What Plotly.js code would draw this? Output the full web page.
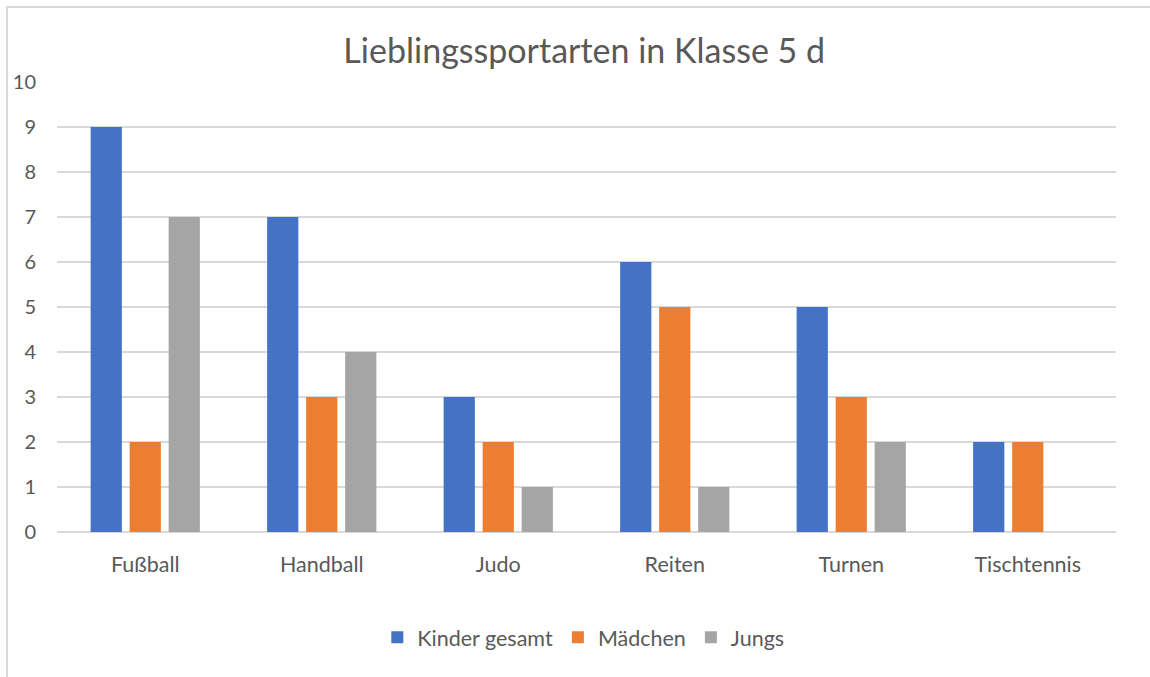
<!DOCTYPE html>
<html>
<head>
<meta charset="utf-8">
<script src="https://cdn.plot.ly/plotly-3.0.1.min.js"></script>
<style>
html,body{margin:0;padding:0;background:#fff;}
#frame{position:absolute;left:6px;top:6px;width:1200px;height:700px;border-left:2px solid #d9d9d9;border-top:2px solid #d9d9d9;pointer-events:none;z-index:5;}
#chart{position:absolute;left:0;top:0;width:1150px;height:677px;}
</style>
</head>
<body>
<div id="chart"></div>
<div id="frame"></div>
<script>
const categories = ["Fußball", "Handball", "Judo", "Reiten", "Turnen", "Tischtennis"];
const kinderGesamt = [9, 7, 3, 6, 5, 2];
const maedchen = [2, 3, 2, 5, 3, 2];
const jungs = [7, 4, 1, 1, 2, 0];
const seriesNames = ["Kinder gesamt", "Mädchen", "Jungs"];
const colors = ["#4472C4", "#ED7D31", "#A5A5A5"];

const fontFam = "Lato, 'Open Sans', sans-serif";
const series = [kinderGesamt, maedchen, jungs];
const data = series.map((vals, i) => ({
  type: "bar",
  x: categories,
  y: vals,
  name: seriesNames[i],
  marker: {color: colors[i]},
  hoverinfo: "x+y+name"
}));

const layout = {
  width: 1150,
  height: 677,
  paper_bgcolor: "#fff",
  plot_bgcolor: "#fff",
  margin: {l: 57, r: 34, t: 82, b: 145},
  barmode: "group",
  bargap: 0.337,
  bargroupgap: 0.2,
  title: {
    text: "Lieblingssportarten in Klasse 5 d",
    font: {family: fontFam, size: 34, color: "#595959"},
    x: 0.508, xanchor: "center",
    y: 0.925, yanchor: "middle"
  },
  xaxis: {
    type: "category",
    showgrid: false,
    showline: false,
    zeroline: false,
    ticks: "",
    tickfont: {family: fontFam, size: 21.5, color: "#595959"},
    ticklabelstandoff: 17
  },
  yaxis: {
    range: [0, 10],
    dtick: 1,
    showgrid: true,
    gridcolor: "#d9d9d9",
    gridwidth: 1.5,
    zeroline: true,
    zerolinecolor: "#d9d9d9",
    zerolinewidth: 1.5,
    showline: false,
    ticks: "",
    tickfont: {family: fontFam, size: 20, color: "#595959"},
    ticklabelstandoff: 20
  },
  showlegend: true,
  legend: {
    orientation: "h",
    x: 0.497, xanchor: "center",
    y: -0.234, yanchor: "middle",
    font: {family: fontFam, size: 21.5, color: "#595959"},
    itemwidth: 30,
    traceorder: "normal"
  }
};

Plotly.newPlot("chart", data, layout, {displayModeBar: false, staticPlot: true});
</script>
</body>
</html>
